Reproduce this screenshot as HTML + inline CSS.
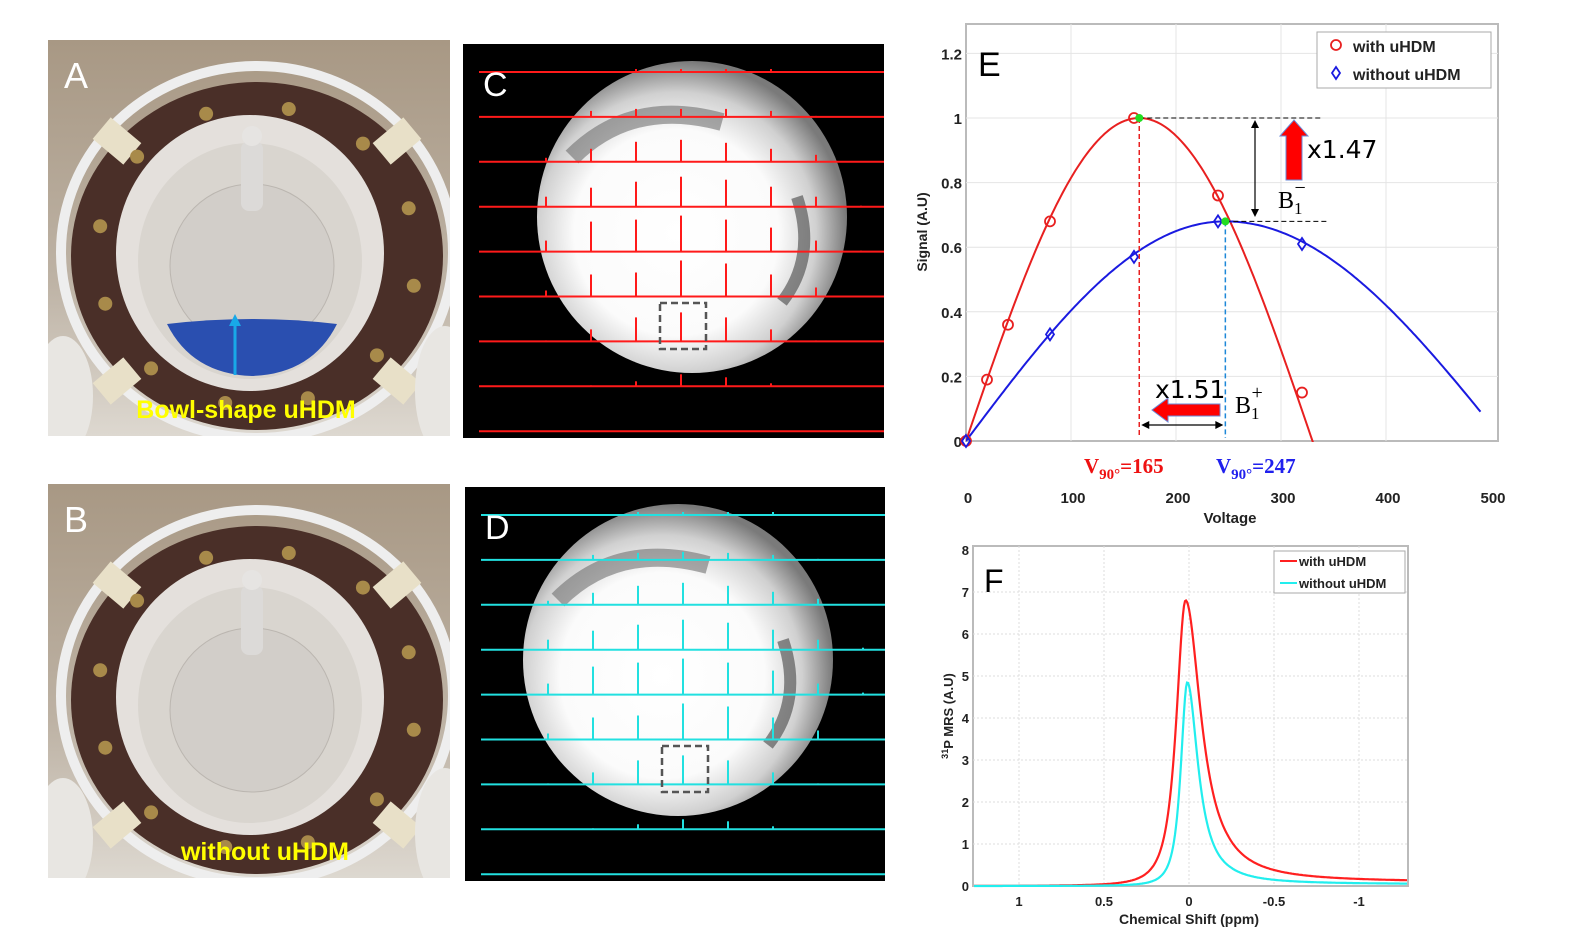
<!DOCTYPE html>
<html><head><meta charset="utf-8"><style>
body{margin:0;background:#fff;}
svg{display:block;font-family:"Liberation Sans",sans-serif;}
</style></head><body>
<svg id="fig" width="1588" height="952" viewBox="0 0 1588 952" xmlns="http://www.w3.org/2000/svg">
<defs>
<radialGradient id="phan" cx="0.45" cy="0.55" r="0.55">
<stop offset="0" stop-color="#fff"/><stop offset="0.6" stop-color="#fbfbfb"/><stop offset="0.82" stop-color="#d0d0d0"/><stop offset="1" stop-color="#7a7a7a"/>
</radialGradient>
<linearGradient id="bgph" x1="0" y1="0" x2="0" y2="1"><stop offset="0" stop-color="#a89884"/><stop offset="0.6" stop-color="#bdb2a4"/><stop offset="1" stop-color="#ddd8d0"/></linearGradient>
<clipPath id="clipE"><rect x="966" y="24" width="532" height="418"/></clipPath>
</defs>
<g id="photos"></g>
<g id="mri"></g>
<g id="chartE"></g>
<g id="chartF"></g>
</svg>
<script>
const NS="http://www.w3.org/2000/svg";
function mk(parent,tag,attrs,text){const e=document.createElementNS(NS,tag);for(const k in attrs)e.setAttribute(k,attrs[k]);if(text!==undefined)e.textContent=text;parent.appendChild(e);return e;}

// ---------- Photos A, B ----------
const photos=document.getElementById('photos');
function photo(x,y,w,h,letter,caption,bowl){
  const g=mk(photos,'g',{});
  
  
  const cp=mk(g,'clipPath',{id:'cp'+letter});mk(cp,'rect',{x:x,y:y,width:w,height:h});
  const gg=mk(g,'g',{"clip-path":`url(#cp${letter})`});
  mk(gg,'rect',{x:x,y:y,width:w,height:h,fill:'url(#bgph)'});
  const cx=x+209,cy=y+216;
  mk(gg,'ellipse',{cx:cx,cy:cy-4,rx:196,ry:186,fill:'none',stroke:'#eee',"stroke-width":10});
  mk(gg,'ellipse',{cx:cx,cy:cy,rx:186,ry:174,fill:'#4a2f28'});
  mk(gg,'ellipse',{cx:cx-7,cy:cy-3,rx:134,ry:138,fill:'#e4e0dc'});
  mk(gg,'ellipse',{cx:cx-7,cy:cy+5,rx:112,ry:118,fill:'#d9d5cf'});
  [[-140,-115],[140,-115],[-140,125],[140,125]].forEach(p=>mk(gg,'rect',{x:cx+p[0]-20,y:cy+p[1]-14,width:40,height:28,fill:'#e8e0c8',transform:`rotate(${p[0]*p[1]>0?40:-40} ${cx+p[0]} ${cy+p[1]})`}));
  for(let i=0;i<12;i++){const a=i/12*Math.PI*2+0.2;mk(gg,'circle',{cx:cx+160*Math.cos(a),cy:cy+150*Math.sin(a),r:7,fill:'#a88a4a'});}
  mk(gg,'circle',{cx:cx-5,cy:cy+10,r:82,fill:'#d2cec9',stroke:'#bbb6b0'});
  mk(gg,'rect',{x:cx-16,y:cy-115,width:22,height:70,rx:8,fill:'#dcdad8'});
  mk(gg,'circle',{cx:cx-5,cy:cy-120,r:10,fill:'#e6e4e2'});
  if(bowl) mk(gg,'path',{d:`M${cx-90} ${cy+68} Q${cx-5} ${cy+58} ${cx+80} ${cy+68} Q${cx+55} ${cy+118} ${cx-5} ${cy+120} Q${cx-65} ${cy+118} ${cx-90} ${cy+68} Z`,fill:'#2a4fb0'});
  mk(gg,'ellipse',{cx:x+15,cy:y+h-40,rx:30,ry:60,fill:'#e8e6e2'});
  mk(gg,'ellipse',{cx:x+w-5,cy:y+h-45,rx:30,ry:65,fill:'#e8e6e2'});
  const L=mk(g,'text',{x:x+16,y:y+48,"font-size":36,fill:'#fff'},letter);
  
  
  const c=mk(g,'text',{x:x+w/2+(bowl?-3:16),y:y+h-18,"font-size":25,"font-weight":'bold',fill:'#ffff00',"text-anchor":'middle'},caption);
  
  
  if(bowl){mk(g,'line',{x1:cx-22,y1:y+335,x2:cx-22,y2:y+282,stroke:'#18a8e8',"stroke-width":3});
    mk(g,'path',{d:`M${cx-28} ${y+286} L${cx-22} ${y+274} L${cx-16} ${y+286} Z`,fill:'#18a8e8'});}
}
photo(48,40,402,396,'A','Bowl-shape uHDM',true);
photo(48,484,402,394,'B','without uHDM',false);

// ---------- MRI spectral grids C, D ----------
const spikeCols=[0,1,2,3,4,5,6,7];
const spikeRowsC=[[0,0,3,3,3,3,0,0],[0,6,8,8,8,6,1,0],[4,13,20,22,19,13,7,0],[10,19,25,30,27,20,10,1],[11,30,32,36,32,24,11,1],[6,22,24,36,33,22,9,0],[1,12,24,29,24,12,1,0],[0,1,5,12,9,3,0,0],[0,0,0,0,0,0,0,0]];
const spikeRowsD=[[0,0,3,3,3,3,0,0],[0,5,7,8,7,5,1,0],[4,12,19,22,19,13,6,0],[10,19,25,30,27,20,10,2],[11,28,32,36,32,24,11,2],[6,22,24,36,33,22,9,1],[1,12,24,29,24,12,1,0],[0,1,5,10,8,3,0,0],[0,0,0,0,0,0,0,0]];
const mri=document.getElementById('mri');
function grid(x,y,w,h,letter,color,rows,phcx,phcy){
  const g=mk(mri,'g',{});
  
  
  mk(g,'rect',{x:x,y:y,width:w,height:h,fill:'#000'});
  mk(g,'ellipse',{cx:phcx,cy:phcy,rx:155,ry:156,fill:'url(#phan)'});
  mk(g,'path',{d:`M${phcx-120} ${phcy-60} Q${phcx-60} ${phcy-120} ${phcx+30} ${phcy-95}`,stroke:'#666',"stroke-width":18,fill:'none',opacity:0.55});
  mk(g,'path',{d:`M${phcx+105} ${phcy-20} Q${phcx+125} ${phcy+40} ${phcx+90} ${phcy+85}`,stroke:'#444',"stroke-width":12,fill:'none',opacity:0.6});
  const x0=x+16,x1=x+w;
  rows.forEach((r,i)=>{
    const ly=y+28+i*44.9;
    const l=mk(g,'line',{x1:x0,y1:ly,x2:x1,y2:ly,stroke:color,"stroke-width":2});
    
    
    spikeCols.forEach(c=>{ if(r[c]>0){const s=mk(g,'line',{x1:x+83+c*45,y1:ly,x2:x+83+c*45,y2:ly-r[c],stroke:color,"stroke-width":2});
      
      }});
  });
  const box=mk(g,'rect',{x:x+197,y:y+259,width:46,height:46,fill:'none',stroke:'#555',"stroke-width":2.5,"stroke-dasharray":'7 4'});
  
  
  const L=mk(g,'text',{x:x+20,y:y+52,"font-size":34,fill:'#fff'},letter);
  
  
}
grid(463,44,421,394,'C','#ff1a1a',spikeRowsC,692,217);
grid(465,487,420,394,'D','#22e0e0',spikeRowsD,678,660);

// ---------- Chart E ----------
const eXTicks=[0,100,200,300,400,500];
const eYTicks=[0,0.2,0.4,0.6,0.8,1,1.2];
const eYTickLabels=['0','0.2','0.4','0.6','0.8','1','1.2'];
const redV=[0,20,40,80,160,240,320];
const redS=[0,0.19,0.36,0.68,1.0,0.76,0.15];
const blueV=[0,80,160,240,320];
const blueS=[0,0.33,0.57,0.68,0.61];
const fitV90=[165,247];
const fitAmp=[1.0,0.68];
const fitEnd=[345,490];
const E=document.getElementById('chartE');
const ex=v=>966+v*1.05, ey=s=>441-s*323;
mk(E,'rect',{x:966,y:24,width:532,height:417,fill:'#fff',stroke:'#bbb',"stroke-width":2});
eXTicks.forEach(t=>{ if(t>0&&t<500) mk(E,'line',{x1:ex(t),y1:24,x2:ex(t),y2:441,stroke:'#e4e4e4'});
  const tx=mk(E,'text',{x:ex(t)+2,y:503,"font-size":15,"font-weight":'bold',"text-anchor":'middle',fill:'#222'},t);
  
  });
eYTicks.forEach((t,i)=>{ if(t>0) mk(E,'line',{x1:966,y1:ey(t),x2:1498,y2:ey(t),stroke:'#e4e4e4'});
  const tx=mk(E,'text',{x:962,y:ey(t)+6,"font-size":15,"font-weight":'bold',"text-anchor":'end',fill:'#222'},eYTickLabels[i]);
  
  });
let t=mk(E,'text',{x:1230,y:523,"font-size":15,"font-weight":'bold',"text-anchor":'middle',fill:'#222'},'Voltage');

t=mk(E,'text',{x:0,y:0,"font-size":14,"font-weight":'bold',"text-anchor":'middle',fill:'#222',transform:'translate(927 232) rotate(-90)'},'Signal (A.U)');

t=mk(E,'text',{x:978,y:76,"font-size":34,fill:'#000'},'E');

const colsE=['#e82020','#1a1ae0'];
const curves=mk(E,'g',{"clip-path":'url(#clipE)'});
[0,1].forEach(k=>{let d='';for(let v=0;v<=fitEnd[k];v+=2){const ph=Math.PI/2*v/fitV90[k];const s=fitAmp[k]*Math.sin(k?ph*0.93+0.07*Math.min(ph,Math.PI/2):ph);d+=(v?'L':'M')+ex(v).toFixed(1)+' '+ey(s).toFixed(1);}
  const p=mk(curves,'path',{d:d,fill:'none',stroke:colsE[k],"stroke-width":2});
  });
redV.forEach((v,i)=>{const c=mk(E,'circle',{cx:ex(v),cy:ey(redS[i]),r:5,fill:'none',stroke:'#e82020',"stroke-width":1.8});
  });
blueV.forEach((v,i)=>{const X=ex(v),Y=ey(blueS[i]);const c=mk(E,'path',{d:`M${X} ${Y-6}L${X+4} ${Y}L${X} ${Y+6}L${X-4} ${Y}Z`,fill:'none',stroke:'#1a1ae0',"stroke-width":1.8});
  });
const rx=ex(fitV90[0]),bx=ex(fitV90[1]),ry1=ey(fitAmp[0]),by1=ey(fitAmp[1]);
mk(E,'line',{x1:rx,y1:ry1,x2:rx,y2:438,stroke:'#e82020',"stroke-width":1.5,"stroke-dasharray":'5 3'});
mk(E,'line',{x1:bx,y1:by1,x2:bx,y2:438,stroke:'#1e88d8',"stroke-width":1.5,"stroke-dasharray":'5 3'});
mk(E,'line',{x1:rx,y1:ry1,x2:1322,y2:ry1,stroke:'#000',"stroke-width":1,"stroke-dasharray":'5 3'});
mk(E,'line',{x1:bx,y1:by1,x2:1328,y2:by1,stroke:'#000',"stroke-width":1,"stroke-dasharray":'5 3'});
mk(E,'circle',{cx:rx,cy:ry1,r:4,fill:'#22dd22'});mk(E,'circle',{cx:bx,cy:by1,r:4,fill:'#22dd22'});
mk(E,'line',{x1:1255,y1:124,x2:1255,y2:213,stroke:'#000',"stroke-width":1.2});
mk(E,'path',{d:'M1251 128L1255 120L1259 128Z M1251 209L1255 217L1259 209Z',fill:'#000'});
mk(E,'line',{x1:rx+4,y1:425,x2:bx-4,y2:425,stroke:'#000',"stroke-width":1.2});
mk(E,'path',{d:`M${rx+10} 421L${rx+2} 425L${rx+10} 429Z M${bx-10} 421L${bx-2} 425L${bx-10} 429Z`,fill:'#000'});
mk(E,'path',{d:'M1286 180 L1286 136 L1280 136 L1294 120 L1308 136 L1302 136 L1302 180 Z',fill:'#ff0000',stroke:'#6a8ad8',"stroke-width":1});
mk(E,'path',{d:'M1220 404 L1168 404 L1168 398 L1152 410 L1168 422 L1168 416 L1220 416 Z',fill:'#ff0000',stroke:'#6a8ad8',"stroke-width":1});
t=mk(E,'text',{x:1307,y:158,"font-size":25,fill:'#000',"font-family":'"DejaVu Sans",sans-serif'},'x1.47');
t=mk(E,'text',{x:1155,y:398,"font-size":25,fill:'#000',"font-family":'"DejaVu Sans",sans-serif'},'x1.51');
t=mk(E,'text',{x:1278,y:208,"font-size":24,fill:'#000',"font-family":'"Liberation Serif",serif'},'B');mk(t,'tspan',{dy:6,"font-size":17},'1');mk(t,'tspan',{dx:-8,dy:-20,"font-size":20},'−');

t=mk(E,'text',{x:1235,y:413,"font-size":24,fill:'#000',"font-family":'"Liberation Serif",serif'},'B');mk(t,'tspan',{dy:6,"font-size":17},'1');mk(t,'tspan',{dx:-8,dy:-20,"font-size":20},'+');

t=mk(E,'text',{x:1084,y:473,"font-size":21,"font-weight":'bold',fill:'#ee1111',"font-family":'"Liberation Serif",serif'},'V');mk(t,'tspan',{dy:6,"font-size":15},'90°');mk(t,'tspan',{dy:-6},'=165');

t=mk(E,'text',{x:1216,y:473,"font-size":21,"font-weight":'bold',fill:'#2020ee',"font-family":'"Liberation Serif",serif'},'V');mk(t,'tspan',{dy:6,"font-size":15},'90°');mk(t,'tspan',{dy:-6},'=247');

const lg=mk(E,'g',{});
mk(lg,'rect',{x:1317,y:32,width:174,height:56,fill:'#fff',stroke:'#aaa'});
mk(lg,'circle',{cx:1336,cy:45,r:5,fill:'none',stroke:'#e82020',"stroke-width":1.8});
mk(lg,'path',{d:'M1336 67L1340 73L1336 79L1332 73Z',fill:'none',stroke:'#1a1ae0',"stroke-width":1.8});
mk(lg,'text',{x:1353,y:52,"font-size":16,"font-weight":'bold',fill:'#222'},'with uHDM');
mk(lg,'text',{x:1353,y:80,"font-size":16,"font-weight":'bold',fill:'#222'},'without uHDM');

// ---------- Chart F ----------
const fXTicks=[1,0.5,0,-0.5,-1];
const fXTickLabels=['1','0.5','0','-0.5','-1'];
const fYTicks=[0,1,2,3,4,5,6,7,8];
const peakCenter=[0.02,0.01];
const peakHeight=[6.8,4.85];
const peakFWHM=[0.2,0.14];
const peakBaseline=[0.09,0.04];
const F=document.getElementById('chartF');
const fx=p=>1189-p*170, fy=v=>886-v*42;
mk(F,'rect',{x:973,y:546,width:435,height:340,fill:'#fff',stroke:'#bbb',"stroke-width":2});
fXTicks.forEach((p,i)=>{mk(F,'line',{x1:fx(p),y1:546,x2:fx(p),y2:886,stroke:'#ddd',"stroke-dasharray":'2 2'});
  const tx=mk(F,'text',{x:fx(p),y:906,"font-size":13,"font-weight":'bold',"text-anchor":'middle',fill:'#222'},fXTickLabels[i]);
  });
fYTicks.forEach(v=>{ if(v>0&&v<8) mk(F,'line',{x1:973,y1:fy(v),x2:1408,y2:fy(v),stroke:'#ddd',"stroke-dasharray":'2 2'});
  const tx=mk(F,'text',{x:969,y:fy(v)+5,"font-size":13,"font-weight":'bold',"text-anchor":'end',fill:'#222'},v);
  });
t=mk(F,'text',{x:1189,y:924,"font-size":14,"font-weight":'bold',"text-anchor":'middle',fill:'#222'},'Chemical Shift (ppm)');

t=mk(F,'text',{x:0,y:0,"font-size":13,"font-weight":'bold',"text-anchor":'middle',fill:'#222',transform:'translate(953 716) rotate(-90)'});
mk(t,'tspan',{"font-size":9,dy:-5},'31');mk(t,'tspan',{dy:5},'P MRS (A.U)');

t=mk(F,'text',{x:984,y:592,"font-size":32,fill:'#000'},'F');

const colsF=['#ff2020','#22eeee'];
[0,1].forEach(k=>{let d='';
  for(let px=974;px<=1407;px+=1){const p=(1189-px)/170;const dd=p-peakCenter[k];
    const g=(dd>0?0.8:1.1)*peakFWHM[k]/2;
    const tail=p<peakCenter[k]?peakBaseline[k]*Math.min(1,(peakCenter[k]-p)*4):0;
    const v=peakHeight[k]*Math.pow(g*g/(dd*dd+g*g),dd>0?1.4:1)+tail;d+=(px>974?'L':'M')+px+' '+fy(v).toFixed(1);}
  const pth=mk(F,'path',{d:d,fill:'none',stroke:colsF[k],"stroke-width":2.2});
  });
const lf=mk(F,'g',{});
mk(lf,'rect',{x:1274,y:551,width:131,height:42,fill:'#fff',stroke:'#aaa'});
mk(lf,'line',{x1:1280,y1:561,x2:1297,y2:561,stroke:'#ff2020',"stroke-width":2});
mk(lf,'line',{x1:1280,y1:583,x2:1297,y2:583,stroke:'#22eeee',"stroke-width":2});
mk(lf,'text',{x:1299,y:566,"font-size":13,"font-weight":'bold',fill:'#222'},'with uHDM');
mk(lf,'text',{x:1299,y:588,"font-size":13,"font-weight":'bold',fill:'#222'},'without uHDM');
</script>
</body></html>
